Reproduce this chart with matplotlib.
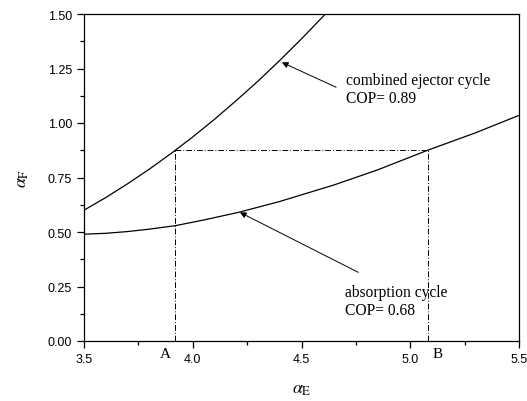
import matplotlib
matplotlib.use("Agg")
import matplotlib.pyplot as plt
from matplotlib.ticker import MultipleLocator, FormatStrFormatter

# combined ejector cycle (COP=0.89)
ejector_E = [3.50, 3.60, 3.70, 3.80, 3.90, 4.00, 4.10, 4.20, 4.30, 4.40, 4.50, 4.61]
ejector_F = [0.600, 0.658, 0.721, 0.788, 0.860, 0.936, 1.017, 1.103, 1.192, 1.287, 1.386, 1.500]

# absorption cycle (COP=0.68)
absorb_E = [3.50, 3.60, 3.70, 3.80, 3.92, 4.05, 4.21, 4.40, 4.65, 4.85, 5.08, 5.30, 5.50]
absorb_F = [0.490, 0.494, 0.502, 0.513, 0.529, 0.555, 0.590, 0.640, 0.716, 0.785, 0.875, 0.955, 1.035]

# operating points A and B
point_A = 3.92
point_B = 5.08
level_F = 0.875

plt.rcParams['mathtext.fontset'] = 'stix'

fig = plt.figure(figsize=(5.27, 4.02), dpi=100)
ax = fig.add_axes([84/527, 1 - 342/402, 435/527, 327/402])

ax.plot(ejector_E, ejector_F, color='k', lw=0.9)
ax.plot(absorb_E, absorb_F, color='k', lw=0.9)

dd = (6, 2, 1, 2)
ax.plot([point_A, point_B], [level_F, level_F], color='k', lw=0.7, dashes=dd)
ax.plot([point_A, point_A], [0, level_F], color='k', lw=0.7, dashes=dd)
ax.plot([point_B, point_B], [0, level_F], color='k', lw=0.7, dashes=dd)

ax.set_xlim(3.5, 5.5)
ax.set_ylim(0, 1.5)
ax.xaxis.set_major_locator(MultipleLocator(0.5))
ax.xaxis.set_minor_locator(MultipleLocator(0.25))
ax.yaxis.set_major_locator(MultipleLocator(0.25))
ax.yaxis.set_minor_locator(MultipleLocator(0.125))
ax.xaxis.set_major_formatter(FormatStrFormatter('%.1f'))
ax.yaxis.set_major_formatter(FormatStrFormatter('%.2f'))
ax.tick_params(which='major', direction='out', length=5, width=0.9, pad=3.5,
               labelsize=9, top=False, right=False)
ax.tick_params(which='minor', direction='out', length=3, width=0.9, top=False, right=False)
for lab in ax.get_xticklabels() + ax.get_yticklabels():
    lab.set_family('Liberation Sans')
for s in ax.spines.values():
    s.set_linewidth(0.9)

serif = 'Liberation Serif'
arrow = dict(arrowstyle='-|>', color='k', lw=0.7, mutation_scale=9, shrinkA=0, shrinkB=0)

# arrows
ax.annotate('', xy=(4.41, 1.278), xytext=(4.659, 1.164), arrowprops=arrow)
ax.annotate('', xy=(4.217, 0.59), xytext=(4.761, 0.315), arrowprops=arrow)

# labels
ax.text(4.705, 1.156, 'combined ejector cycle\nCOP= 0.89', fontsize=11.2, family=serif,
        ha='left', va='center', linespacing=1.23)
ax.text(4.701, 0.183, 'absorption cycle\nCOP= 0.68', fontsize=11.2, family=serif,
        ha='left', va='center', linespacing=1.23)

trans = ax.get_xaxis_transform()
ax.text(3.875, -0.037, 'A', transform=trans, ha='center', va='center', fontsize=11, family=serif)
ax.text(5.126, -0.037, 'B', transform=trans, ha='center', va='center', fontsize=11, family=serif)

ax.set_xlabel(r'$\alpha_{\rm E}$', fontsize=13, labelpad=10)
ax.set_ylabel(r'$\alpha_{\rm F}$', fontsize=13, labelpad=12)

fig.savefig('out.png', dpi=100)
